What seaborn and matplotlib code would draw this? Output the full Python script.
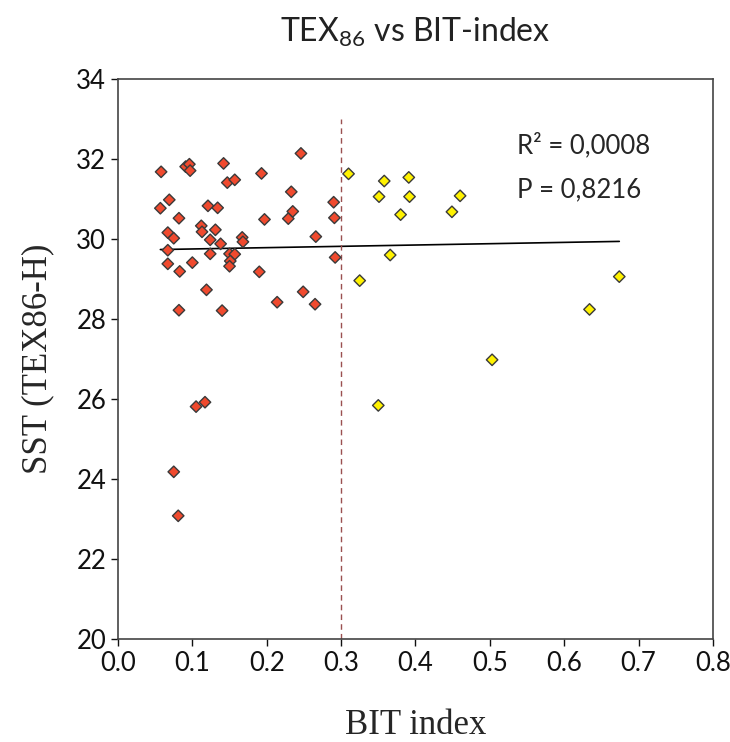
import matplotlib
matplotlib.use("Agg")
import matplotlib.pyplot as plt
import numpy as np
import pandas as pd
import seaborn as sns

# BIT < 0.3 (red) and BIT >= 0.3 (yellow)
bit_low = [0.058, 0.091, 0.096, 0.097, 0.142, 0.246, 0.193, 0.147, 0.157, 0.233,
           0.069, 0.057, 0.121, 0.134, 0.082, 0.197, 0.229, 0.235, 0.067, 0.075,
           0.112, 0.113, 0.131, 0.124, 0.138, 0.167, 0.168, 0.266, 0.067, 0.124,
           0.150, 0.157, 0.151, 0.150, 0.067, 0.083, 0.100, 0.190, 0.119, 0.082,
           0.140, 0.214, 0.249, 0.265, 0.290, 0.291, 0.292, 0.105, 0.117, 0.075,
           0.081]
sst_low = [31.68, 31.81, 31.87, 31.71, 31.89, 32.14, 31.64, 31.41, 31.48, 31.18,
           30.98, 30.77, 30.83, 30.78, 30.52, 30.49, 30.51, 30.69, 30.16, 30.02,
           30.33, 30.18, 30.23, 29.98, 29.88, 30.04, 29.93, 30.06, 29.72, 29.63,
           29.63, 29.62, 29.45, 29.32, 29.38, 29.19, 29.41, 29.18, 28.73, 28.22,
           28.21, 28.42, 28.68, 28.37, 30.92, 30.53, 29.54, 25.81, 25.92, 24.18,
           23.08]
bit_high = [0.310, 0.358, 0.391, 0.351, 0.392, 0.460, 0.449, 0.380, 0.366, 0.325,
            0.674, 0.634, 0.503, 0.350]
sst_high = [31.63, 31.45, 31.54, 31.06, 31.06, 31.08, 30.68, 30.61, 29.60, 28.96,
            29.06, 28.24, 26.98, 25.84]

bit_cutoff = 0.3
r2_text = "R\u00b2 = 0,0008"
p_text = "P = 0,8216"

df = pd.DataFrame({
    "bit": bit_low + bit_high,
    "sst": sst_low + sst_high,
    "group": ["low"] * len(bit_low) + ["high"] * len(bit_high),
})

sns.set_style("ticks")
plt.rcParams["font.family"] = ["Lato", "DejaVu Sans"]

fig = plt.figure(figsize=(7.3, 7.42), dpi=100)
ax = fig.add_axes([0.1616, 0.1388, 0.8151, 0.7547])

# trend line over all samples
sns.regplot(data=df, x="bit", y="sst", scatter=False, ci=None, ax=ax,
            line_kws={"color": "black", "linewidth": 1.2})

ax.vlines(bit_cutoff, 20, 33, colors="#9a5050", linestyles=(0, (4, 3)), linewidth=1)

sns.scatterplot(data=df, x="bit", y="sst", hue="group",
                palette={"low": "#f04a2e", "high": "#fff200"},
                marker="D", s=34, edgecolor="#3a3a3a", linewidth=1.0,
                legend=False, ax=ax, zorder=3)

ax.set_xlim(0, 0.8)
ax.set_ylim(20, 34)
ax.set_xticks(np.arange(0, 0.81, 0.1))
ax.set_xticklabels([f"{v:.1f}" for v in np.arange(0, 0.81, 0.1)])
ax.set_yticks(range(20, 35, 2))
ax.tick_params(labelsize=18.5, length=5, width=1, colors="#111111", direction="out")

for sp in ax.spines.values():
    sp.set_color("#444444")
    sp.set_linewidth(1.2)
    sp.set_visible(True)

ax.set_xlabel("BIT index", fontsize=25, family="Liberation Serif", labelpad=24)
ax.set_ylabel("SST (TEX86-H)", fontsize=25, family="Liberation Serif", labelpad=16)
ax.set_title("TEX$_{\\mathregular{86}}$ vs BIT-index", fontsize=23, pad=27,
             color="#222222")

ax.text(0.537, 32.35, r2_text, fontsize=18.5, ha="left", va="center")
ax.text(0.537, 31.22, p_text, fontsize=18.5, ha="left", va="center")

fig.savefig("out.png", dpi=100)
